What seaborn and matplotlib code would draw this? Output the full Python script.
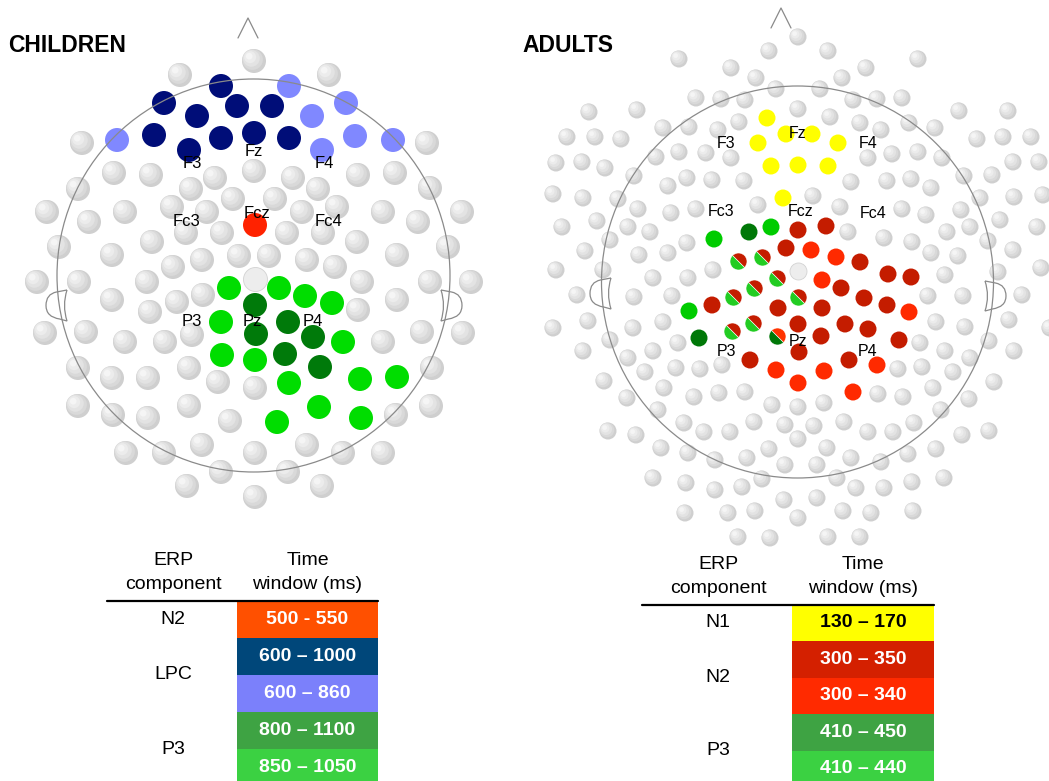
import pandas as pd
import matplotlib
matplotlib.use("Agg")
import matplotlib.pyplot as plt
from matplotlib.markers import MarkerStyle
from matplotlib.patches import Circle, Rectangle, PathPatch
from matplotlib.path import Path
from matplotlib.transforms import Affine2D
import seaborn as sns

# ---------------- children net (electrode positions, px) ----------------
kid_gray = [
    (254, 61), (180, 75), (329, 75), (82, 143), (427, 143),
    (114, 173), (151, 175), (215, 178), (254, 171), (293, 178), (358, 175), (395, 173),
    (78, 189), (191, 189), (318, 189), (430, 188), (233, 199), (275, 199),
    (47, 212), (125, 212), (172, 207), (207, 212), (302, 212), (337, 207), (383, 212), (462, 212),
    (89, 222), (186, 233), (222, 233), (287, 233), (323, 233), (418, 222),
    (59, 247), (152, 242), (357, 242), (448, 247),
    (112, 255), (239, 256), (269, 256), (202, 260), (307, 260), (397, 255),
    (173, 267), (335, 267),
    (37, 282), (79, 282), (147, 282), (362, 282), (430, 282), (471, 282),
    (112, 300), (177, 302), (203, 295), (358, 310), (397, 300), (150, 312),
    (45, 333), (86, 332), (125, 342), (165, 342), (192, 335), (383, 342), (422, 332), (463, 333),
    (78, 368), (112, 378), (148, 378), (189, 368), (432, 368), (218, 382), (255, 388),
    (78, 406), (113, 415), (148, 418), (189, 406), (230, 421), (396, 415), (431, 406),
    (126, 453), (164, 453), (202, 445), (255, 453), (307, 445), (343, 453), (383, 453),
    (187, 486), (221, 472), (255, 497), (288, 472), (322, 486),
]
kid_cz = [(255, 279)]
kid_lpc_long = [(221, 86), (164, 103), (237, 106), (272, 106), (197, 116),
                (154, 135), (221, 138), (254, 133), (289, 138), (189, 150)]
kid_lpc_short = [(289, 86), (346, 103), (312, 116), (117, 140), (355, 136), (393, 140), (322, 150)]
kid_n2 = [(255, 225)]
kid_p3_long = [(255, 305), (288, 322), (313, 337), (256, 334), (285, 354), (320, 367)]
kid_p3_short = [(229, 288), (279, 288), (305, 296), (332, 303), (221, 322), (343, 342),
                (222, 355), (255, 360), (289, 383), (360, 379), (397, 377),
                (277, 422), (319, 407), (361, 418)]

# ---------------- adults net ----------------
adult_gray = [
    # upper left
    (769, 51), (679, 59), (731, 68), (756, 78), (776, 89), (696, 98), (721, 99), (745, 100),
    (589, 112), (637, 110), (739, 122), (663, 128), (689, 127), (718, 130),
    (567, 137), (595, 137), (621, 139), (679, 152), (706, 153), (731, 158),
    (556, 163), (582, 162), (605, 168), (656, 157), (687, 178), (712, 180), (744, 181),
    (634, 176), (668, 186), (553, 194), (583, 198), (618, 199), (758, 205), (696, 209),
    (671, 213), (638, 209), (562, 227), (597, 221), (628, 227), (650, 232), (687, 243),
    (668, 253), (639, 255), (610, 240), (585, 251), (556, 270), (603, 270), (713, 270),
    # upper right
    (798, 37), (828, 51), (918, 59), (866, 68), (842, 78), (820, 89), (853, 100), (877, 99),
    (902, 98), (798, 109), (830, 117), (959, 111), (1008, 111), (860, 123), (881, 130),
    (909, 123), (935, 128), (977, 139), (1003, 137), (1031, 137), (868, 158), (892, 154),
    (918, 152), (942, 158), (1013, 162), (1039, 162), (964, 176), (992, 175), (851, 182),
    (887, 181), (911, 179), (931, 188), (980, 198), (1014, 197), (813, 196), (840, 207),
    (902, 209), (926, 215), (961, 210), (1043, 195), (970, 227), (1000, 220), (1037, 227),
    (848, 232), (884, 238), (912, 242), (947, 232), (988, 241), (931, 253), (958, 256),
    (1013, 250), (998, 272), (1041, 268), (945, 275),
    # lower left
    (653, 278), (688, 278), (577, 295), (634, 297), (672, 296), (553, 328), (588, 321),
    (610, 340), (633, 328), (663, 322), (678, 343), (583, 351), (628, 358), (653, 351),
    (676, 368), (700, 369), (722, 365), (604, 381), (645, 372), (664, 388), (627, 398),
    (658, 410), (694, 397), (719, 393), (745, 392), (772, 405), (684, 423), (704, 432),
    (730, 432), (754, 422), (785, 425), (608, 431), (636, 435), (661, 448), (688, 453),
    (715, 460), (747, 458), (769, 449), (785, 465), (653, 478), (686, 483), (715, 490),
    (742, 487), (762, 479), (784, 500), (685, 513), (728, 513), (755, 511), (738, 537),
    (770, 538),
    # lower right
    (928, 296), (963, 296), (1022, 295), (936, 322), (965, 327), (1009, 320), (1050, 328),
    (920, 343), (945, 351), (970, 358), (989, 341), (1014, 351), (898, 369), (922, 367),
    (953, 372), (994, 382), (878, 394), (903, 397), (933, 388), (969, 399), (798, 407),
    (824, 403), (941, 410), (814, 426), (844, 422), (868, 432), (893, 432), (914, 423),
    (962, 435), (989, 431), (798, 439), (827, 448), (851, 458), (881, 462), (908, 454),
    (936, 449), (817, 465), (837, 478), (856, 488), (884, 488), (912, 482), (944, 478),
    (817, 498), (798, 518), (843, 511), (871, 513), (913, 511), (828, 537), (860, 537),
]
adult_cz = [(798, 271)]
adult_n1 = [(767, 118), (786, 134), (812, 134), (758, 143), (838, 143),
            (771, 166), (798, 165), (828, 166), (783, 198)]
adult_n2_long = [(798, 230), (826, 226), (786, 248), (860, 262), (888, 274), (911, 277),
                 (712, 305), (778, 308), (841, 288), (864, 298), (887, 305), (822, 308),
                 (798, 324), (845, 324), (868, 329), (821, 336), (899, 340), (799, 352),
                 (849, 360), (750, 360)]
adult_n2_short = [(811, 250), (836, 257), (822, 280), (909, 312), (877, 365),
                  (824, 371), (776, 370), (798, 383), (853, 392)]
adult_p3_long = [(749, 232), (699, 338)]
adult_p3_short = [(714, 239), (771, 227), (689, 311)]
# electrodes significant in both N2 (300-350) and P3 (410-440)
adult_both = [(738, 261), (762, 257), (777, 278), (754, 288), (733, 297),
              (798, 297), (732, 331), (753, 323)]
# significant in both P3 (410-450) and N2 (300-340)
adult_both2 = [(777, 336)]

# ---------------- tables ----------------
kid_components = ["N2", "LPC", "P3"]
kid_component_rows = [[0], [1, 2], [3, 4]]
kid_windows = ["500 - 550", "600 \u2013 1000", "600 \u2013 860", "800 \u2013 1100", "850 \u2013 1050"]
kid_window_colors = ["#ff5000", "#00477a", "#7b80fb", "#3ea343", "#3bd142"]

adult_components = ["N1", "N2", "P3"]
adult_component_rows = [[0], [1, 2], [3, 4]]
adult_windows = ["130 \u2013 170", "300 \u2013 350", "300 \u2013 340", "410 \u2013 450", "410 \u2013 440"]
adult_window_colors = ["#ffff00", "#d42000", "#ff2a00", "#3ea343", "#3bd142"]
adult_window_text = ["black", "white", "white", "white", "white"]

kid_labels = {"F3": (192, 163), "Fz": (254, 151), "F4": (324, 163),
              "Fc3": (187, 221), "Fcz": (257, 213), "Fc4": (329, 221),
              "P3": (192, 322), "Pz": (252, 322), "P4": (313, 322)}
adult_labels = {"F3": (726, 143), "Fz": (798, 133), "F4": (868, 143),
                "Fc3": (721, 211), "Fcz": (801, 212), "Fc4": (873, 213),
                "P3": (727, 352), "Pz": (798, 342), "P4": (868, 352)}

sns.set_style("white")
plt.rcParams["font.family"] = ["Liberation Sans", "DejaVu Sans"]
plt.rcParams["text.color"] = "black"

fig = plt.figure(figsize=(10.49, 7.81), dpi=100)
ax = fig.add_axes([0, 0, 1, 1])
LINE = "#8a8a8a"


def pts_df(pts):
    return pd.DataFrame(pts, columns=["x", "y"])


def spheres(pts, d):
    # fake the shaded look of the grey electrodes with stacked discs
    df = pts_df(pts)
    layers = [(1.0, 0.0, "#cfcfcf"), (0.86, 0.06, "#d9d9d9"), (0.7, 0.11, "#e3e3e3"),
              (0.5, 0.16, "#ececec"), (0.28, 0.2, "#f5f5f5")]
    for scale, off, col in layers:
        sns.scatterplot(x=df.x - off * d, y=df.y - off * d, s=(0.72 * d * scale) ** 2,
                        color=col, edgecolor="none", linewidth=0, legend=False, ax=ax, zorder=2)


def flat(groups, d):
    frames = []
    for name, (pts, col) in groups.items():
        df = pts_df(pts)
        df["window"] = name
        frames.append(df)
    df = pd.concat(frames, ignore_index=True)
    pal = {k: v[1] for k, v in groups.items()}
    sns.scatterplot(data=df, x="x", y="y", hue="window", palette=pal, s=(0.72 * d) ** 2,
                    edgecolor="none", linewidth=0, legend=False, ax=ax, zorder=3)


def ear(xi, y0, y1, depth, side):
    # side = -1 for the left ear (bulges left), +1 for the right one
    ym = (y0 + y1) / 2
    xo = xi + side * depth
    verts = [(xi, y0), (xi + side * depth * 0.5, y0 + 2),
             (xo, y0 + 4), (xo, ym),
             (xo, y1 - 4), (xi + side * depth * 0.35, y1 - 2),
             (xi, y1),
             (xi + side * 5, ym), (xi, y0)]
    codes = [Path.MOVETO, Path.LINETO,
             Path.CURVE3, Path.CURVE3,
             Path.CURVE3, Path.CURVE3,
             Path.LINETO,
             Path.CURVE3, Path.CURVE3]
    ax.add_patch(PathPatch(Path(verts, codes), fill=False, ec=LINE, lw=0.9, zorder=5))


def head(cx, cy, r, nose, ears):
    ax.add_patch(Circle((cx, cy), r, fill=False, ec=LINE, lw=0.9, zorder=5))
    ax.plot([nose[0] - 10, nose[0], nose[0] + 10], [nose[1] + 20, nose[1], nose[1] + 20],
            color=LINE, lw=0.9, zorder=5)
    for e in ears:
        ear(*e)


# children head
spheres(kid_gray, 24)
sns.scatterplot(data=pts_df(kid_cz), x="x", y="y", s=(0.72 * 24) ** 2, color="#ededed",
                edgecolor="#d2d2d2", linewidth=0.6, legend=False, ax=ax, zorder=3)
flat({"600-1000": (kid_lpc_long, "#000d78"), "600-860": (kid_lpc_short, "#8088ff"),
      "500-550": (kid_n2, "#ff2200"), "800-1100": (kid_p3_long, "#007a0a"),
      "850-1050": (kid_p3_short, "#00dd00")}, 24)
head(253.5, 275.5, 196.5, (248, 18), [(67, 290, 321, 21, -1), (441, 290, 321, 21, 1)])

# adults head
spheres(adult_gray, 17)
sns.scatterplot(data=pts_df(adult_cz), x="x", y="y", s=(0.72 * 17) ** 2, color="#ededed",
                edgecolor="#d2d2d2", linewidth=0.6, legend=False, ax=ax, zorder=3)
flat({"130-170": (adult_n1, "#ffff00"), "300-350": (adult_n2_long, "#c41c00"),
      "300-340": (adult_n2_short, "#ff2a00"), "410-450": (adult_p3_long, "#007808"),
      "410-440": (adult_p3_short, "#00cc00")}, 17)
half = MarkerStyle("o", fillstyle="top", transform=Affine2D().rotate_deg(-45))
b = pts_df(adult_both)
ax.plot(b.x, b.y, ls="none", marker=half, ms=0.72 * 17, mfc="#c41c00", mfcalt="#22cc22",
        mec="white", mew=0.4, zorder=4)
b2 = pts_df(adult_both2)
ax.plot(b2.x, b2.y, ls="none", marker=half, ms=0.72 * 17, mfc="#ff3300", mfcalt="#007808",
        mec="white", mew=0.4, zorder=4)
head(797.5, 282, 196, (781, 8), [(611, 278, 309, 21, -1), (985, 281, 311, 21, 1)])

for lab, (x, y) in kid_labels.items():
    ax.text(x, y, lab, fontsize=12, ha="center", va="center", zorder=6)
for lab, (x, y) in adult_labels.items():
    ax.text(x, y, lab, fontsize=11.5, ha="center", va="center", zorder=6)

ax.text(8, 46, "CHILDREN", fontsize=16.5, fontweight="bold", ha="left", va="center")
ax.text(522, 45, "ADULTS", fontsize=16.5, fontweight="bold", ha="left", va="center")


def table(x0, xc0, x1, top, rh, comps, comp_rows, windows, colors, txtcols):
    lab_x = (x0 + xc0) / 2 + 1
    val_x = (xc0 + x1) / 2
    ax.text(lab_x, top - 40, "ERP", fontsize=14, ha="center", va="center")
    ax.text(lab_x, top - 16, "component", fontsize=14, ha="center", va="center")
    ax.text(val_x, top - 40, "Time", fontsize=14, ha="center", va="center")
    ax.text(val_x, top - 16, "window (ms)", fontsize=14, ha="center", va="center")
    for i, (w, c, tc) in enumerate(zip(windows, colors, txtcols)):
        ax.add_patch(Rectangle((xc0, top + i * rh), x1 - xc0, rh, color=c, lw=0, zorder=2))
        ax.text(val_x, top + (i + 0.5) * rh, w, fontsize=14, fontweight="bold",
                color=tc, ha="center", va="center", zorder=3)
    ax.plot([x0, x1], [top, top], color="black", lw=1.6, zorder=4)
    for comp, rows in zip(comps, comp_rows):
        yc = top + (sum(rows) / len(rows) + 0.5) * rh
        ax.text(lab_x, yc, comp, fontsize=14, ha="center", va="center")


table(107, 237, 378, 600.5, 37.2, kid_components, kid_component_rows,
      kid_windows, kid_window_colors, ["white"] * 5)
table(642, 792, 934, 604.5, 36.5, adult_components, adult_component_rows,
      adult_windows, adult_window_colors, adult_window_text)

ax.set_xlim(0, 1049)
ax.set_ylim(781, 0)
ax.axis("off")
fig.savefig("out.png", dpi=100)
